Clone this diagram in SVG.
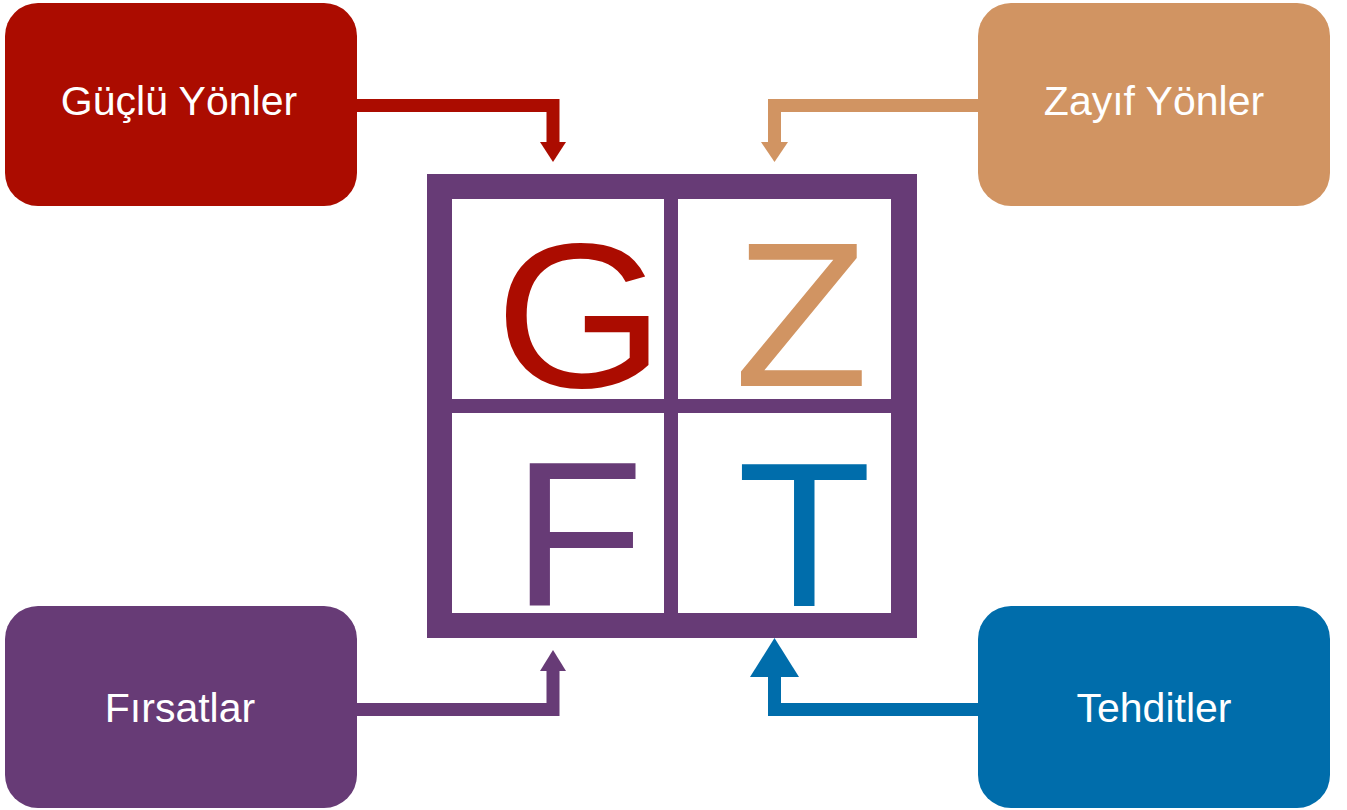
<svg xmlns="http://www.w3.org/2000/svg" width="1347" height="810" viewBox="0 0 1347 810">
<style>
.box{stroke:none}
.lbl{font-family:"Liberation Sans",Arial,sans-serif;font-size:41px;fill:#ffffff;text-anchor:middle}
.big{font-family:"Liberation Sans",Arial,sans-serif;font-size:206px}
.ln{fill:none;stroke-width:13;stroke-linejoin:miter}
</style>
<rect width="1347" height="810" fill="#ffffff"/>
<g id="connectors">
<path class="ln" d="M355 105.5 H553 V143" stroke="#AB0C00"/>
<polygon points="540,142 566,142 553,162" fill="#AB0C00"/>
<path class="ln" d="M980 105.5 H774.5 V143" stroke="#D19462"/>
<polygon points="761,142 788,142 774.5,162" fill="#D19462"/>
<path class="ln" d="M355 709.5 H553 V670" stroke="#673B76"/>
<polygon points="540,671 566,671 553,650" fill="#673B76"/>
<path class="ln" d="M980 709.5 H774.5 V676" stroke="#006DAB"/>
<polygon points="750,677 799,677 774.5,638" fill="#006DAB"/>
</g>
<g id="swot-grid">
<rect x="427" y="174" width="490" height="464" fill="#673B76"/>
<rect x="452" y="199" width="212" height="200" fill="#ffffff"/>
<rect x="678" y="199" width="213" height="200" fill="#ffffff"/>
<rect x="452" y="413" width="212" height="200" fill="#ffffff"/>
<rect x="678" y="413" width="213" height="200" fill="#ffffff"/>
<text class="big" transform="translate(495,387) scale(1.06,1)" fill="#AB0C00">G</text>
<text class="big" transform="translate(734,386) scale(1.07,1)" fill="#D19462">Z</text>
<text class="big" transform="translate(512,606) scale(1.05,1)" fill="#673B76">F</text>
<text class="big" transform="translate(737,606) scale(1.07,1)" fill="#006DAB">T</text>
</g>
<g id="node-guclu">
<rect class="box" x="5" y="3" width="352" height="203" rx="33" fill="#AB0C00"/>
<text class="lbl" x="179" y="115">Güçlü Yönler</text>
</g>
<g id="node-zayif">
<rect class="box" x="978" y="3" width="352" height="203" rx="33" fill="#D19462"/>
<text class="lbl" x="1154" y="115">Zayıf Yönler</text>
</g>
<g id="node-firsatlar">
<rect class="box" x="5" y="606" width="352" height="202" rx="33" fill="#673B76"/>
<text class="lbl" x="180" y="722">Fırsatlar</text>
</g>
<g id="node-tehditler">
<rect class="box" x="978" y="606" width="352" height="202" rx="33" fill="#006DAB"/>
<text class="lbl" x="1154" y="722">Tehditler</text>
</g>
</svg>
